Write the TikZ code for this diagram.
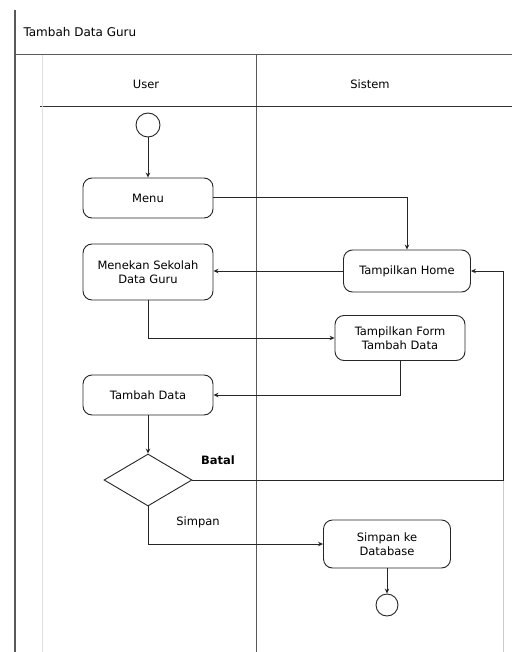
\documentclass[tikz,border=0pt]{standalone}
\usepackage{fontspec}
\setmainfont{DejaVu Sans}
\usetikzlibrary{shapes.geometric,arrows.meta}
\begin{document}
\begin{tikzpicture}[x=1pt,y=-1pt,
  font=\fontsize{11.5}{14}\selectfont,
  frame/.style={draw=black!65,line width=1pt},
  act/.style={draw=black!85,line width=0.9pt,rounded corners=9pt,align=center,
    minimum width=130pt,inner sep=2pt},
  flow/.style={draw=black!85,line width=1pt,-{Stealth[length=5pt,width=4.5pt]}},
  dot/.style={circle,draw=black!85,line width=0.9pt,minimum size=24pt,inner sep=0pt},
  choice/.style={diamond,draw=black!85,line width=0.9pt,minimum width=88pt,
    minimum height=52pt,inner sep=0pt,aspect=1.7}]
\useasboundingbox (0,0) rectangle (512,652);
\fill[white] (0,0) rectangle (512,652);

% swimlane frame
\draw[frame,line width=1.6pt] (15,10) -- (15,652);
\draw[frame] (15,55) -- (512,55);
\draw[frame] (256,55) -- (256,652);
\draw[frame,draw=black!80] (40,107) -- (512,107);
\draw[draw=black!12,line width=0.8pt] (42,55) -- (42,652);
\draw[draw=black!20,line width=0.8pt] (503,280) -- (503,652);

\node[anchor=west,font=\fontsize{12}{14}\selectfont] (title) at (20,32) {Tambah Data Guru};
\node (laneU) at (146,84) {User};
\node (laneS) at (370,84) {Sistem};

% activities
\node[dot] (start) at (148,125) {};
\node[act,minimum height=40pt] (menu) at (148,198) {Menu};
\node[act,minimum height=56pt] (pilih) at (148,272) {Menekan Sekolah\\Data Guru};
\node[act,minimum width=127pt,minimum height=42pt] (home) at (407,271) {Tampilkan Home};
\node[act,minimum height=45pt] (form) at (400,338) {Tampilkan Form\\Tambah Data};
\node[act,minimum height=40pt] (tambah) at (148,395) {Tambah Data};
\node[choice] (cek) at (148,480) {};
\node[act,minimum width=127pt,minimum height=48pt] (simpan) at (387,544) {Simpan ke\\Database};
\node[dot,minimum size=22pt] (stop) at (387,605) {};

% control flow
\draw[flow] (start) -- (menu);
\draw[flow] (menu.east) -| (home.north);
\draw[flow] (home.west) -- (pilih.east |- home.west);
\draw[flow] (pilih.south) |- (form.west);
\draw[flow] (form.south) |- (tambah.east);
\draw[flow] (tambah) -- (cek);
\coordinate (batalT) at (503,480);
\draw[flow] (cek.east) -- (batalT) |- (home.east);
\draw[flow] (cek.south) |- (simpan.west);
\draw[flow] (simpan) -- (stop);

\node[font=\fontsize{11.5}{14}\selectfont\bfseries] (lbatal) at (218,460) {Batal};
\node (lsimpan) at (198,522) {Simpan};
\end{tikzpicture}
\end{document}
